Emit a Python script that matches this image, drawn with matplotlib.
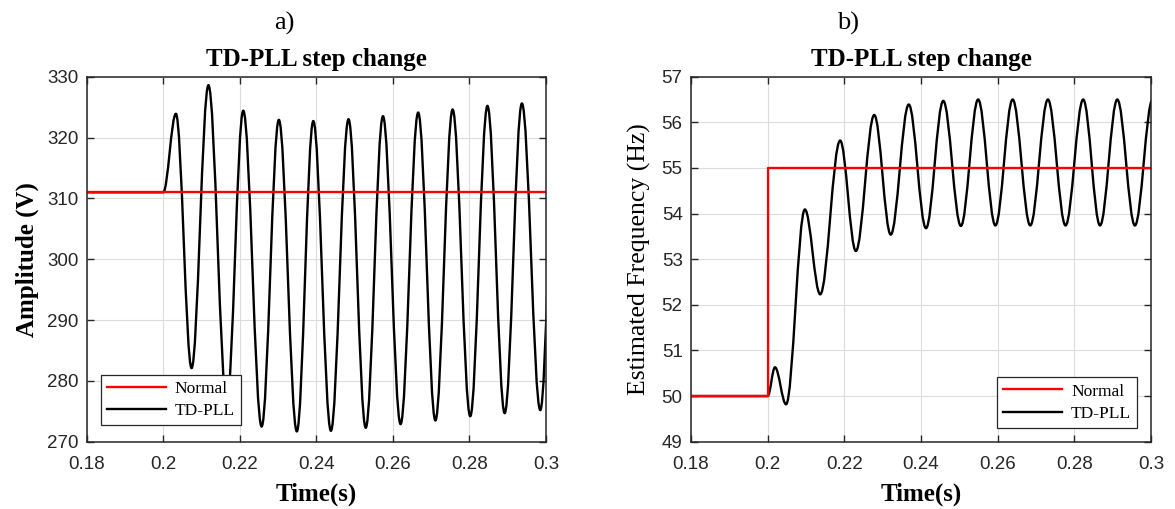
import matplotlib
matplotlib.use("Agg")
import matplotlib.pyplot as plt
from matplotlib.path import Path
from matplotlib.patches import PathPatch
from matplotlib.lines import Line2D

# ── Data ─────────────────────────────────────────────────────────────────────
# TD-PLL curves given by their turning points (time, value); the curve passes
# through each one with a flat tangent.
amp_t = [0.18, 0.2000, 0.2033, 0.2074, 0.2118, 0.2166, 0.2209, 0.2257, 0.2302,
         0.2349, 0.2392, 0.2438, 0.2484, 0.2529, 0.2574, 0.2620, 0.2666, 0.2711,
         0.2756, 0.2802, 0.2847, 0.2892, 0.2937, 0.2985, 0.3028]
amp_v = [311.0, 311.0, 323.9, 282.1, 328.6, 276.5, 324.4, 272.5, 322.9,
         271.7, 322.7, 271.8, 323.0, 272.3, 323.5, 272.9, 324.1, 273.5,
         324.6, 274.2, 325.2, 274.7, 325.6, 275.2, 326.0]

freq_t = [0.18, 0.2000, 0.2019, 0.2048, 0.2097, 0.2137, 0.2189, 0.2230, 0.2278,
          0.2321, 0.2368, 0.2413, 0.2458, 0.2504, 0.2549, 0.2594, 0.2639, 0.2685,
          0.2731, 0.2777, 0.2823, 0.2867, 0.2912, 0.2958, 0.3004]
freq_v = [50.0, 50.0, 50.63, 49.82, 54.09, 52.23, 55.60, 53.18, 56.16,
          53.54, 56.39, 53.68, 56.47, 53.73, 56.50, 53.74, 56.50, 53.74,
          56.50, 53.74, 56.50, 53.74, 56.50, 53.74, 56.50]

# Reference ("Normal") signals
normal_amp_t = [0.18, 0.3]
normal_amp_v = [311, 311]
normal_freq_t = [0.18, 0.2, 0.2, 0.3]
normal_freq_v = [50, 50, 55, 55]

x_ticks = [0.18, 0.2, 0.22, 0.24, 0.26, 0.28, 0.3]
x_tick_labels = ["0.18", "0.2", "0.22", "0.24", "0.26", "0.28", "0.3"]
amp_ticks = [270, 280, 290, 300, 310, 320, 330]
freq_ticks = [49, 50, 51, 52, 53, 54, 55, 56, 57]

# ── Style ─────────────────────────────────────────────────────────────────────
SERIF = "Liberation Serif"
SANS = "Liberation Sans"
LW = 1.7
K = 0.36  # bezier handle fraction (approximates a half-cosine between turning points)


def turning_point_path(ts, vs):
    verts = [(ts[0], vs[0])]
    codes = [Path.MOVETO]
    for i in range(1, len(ts)):
        t0, v0, t1, v1 = ts[i - 1], vs[i - 1], ts[i], vs[i]
        dt = t1 - t0
        verts += [(t0 + K * dt, v0), (t1 - K * dt, v1), (t1, v1)]
        codes += [Path.CURVE4] * 3
    return Path(verts, codes)


def style_axes(ax, yticks, ylim):
    ax.set_xlim(0.18, 0.3)
    ax.set_ylim(*ylim)
    ax.set_xticks(x_ticks)
    ax.set_xticklabels(x_tick_labels)
    ax.set_yticks(yticks)
    ax.grid(True, color="#dcdcdc", linewidth=0.8)
    ax.set_axisbelow(True)
    ax.tick_params(direction="in", length=5, width=1, top=True, right=True,
                   labelsize=13.5, colors="#262626", pad=6)
    ax.tick_params(axis="x", pad=10)
    for lab in ax.get_xticklabels() + ax.get_yticklabels():
        lab.set_fontfamily(SANS)
    for s in ax.spines.values():
        s.set_color("#262626")
        s.set_linewidth(1.1)
    ax.set_xlabel("Time(s)", fontfamily=SERIF, fontweight="bold", fontsize=18, labelpad=7)
    ax.set_title("TD-PLL step change", fontfamily=SERIF, fontweight="bold", fontsize=18, pad=8)


def add_legend(ax, loc):
    handles = [Line2D([], [], color="#ff0000", lw=LW),
               Line2D([], [], color="black", lw=LW)]
    leg = ax.legend(handles, ["Normal", "TD-PLL"], loc=loc, fancybox=False,
                    prop={"family": SERIF, "size": 12.5}, handlelength=3.4,
                    borderpad=0.35, labelspacing=0.35, handletextpad=0.5,
                    borderaxespad=0.8, framealpha=1, edgecolor="#262626")
    leg.get_frame().set_linewidth(0.9)


fig = plt.figure(figsize=(11.75, 5.09), dpi=100)
ax1 = fig.add_axes([0.0738, 0.1322, 0.3909, 0.7171])
ax2 = fig.add_axes([0.5881, 0.1322, 0.3915, 0.7171])

# ── (a) Amplitude ─────────────────────────────────────────────────────────────
ax1.plot(normal_amp_t, normal_amp_v, color="#ff0000", lw=LW)
ax1.add_patch(PathPatch(turning_point_path(amp_t, amp_v), fill=False,
                        edgecolor="black", lw=LW))
style_axes(ax1, amp_ticks, (270, 330))
ax1.set_ylabel("Amplitude (V)", fontfamily=SERIF, fontweight="bold", fontsize=18, labelpad=6)
add_legend(ax1, (0.031, 0.045))

# ── (b) Frequency ─────────────────────────────────────────────────────────────
ax2.plot(normal_freq_t, normal_freq_v, color="#ff0000", lw=LW)
ax2.add_patch(PathPatch(turning_point_path(freq_t, freq_v), fill=False,
                        edgecolor="black", lw=LW))
style_axes(ax2, freq_ticks, (49, 57))
ax2.set_ylabel("Estimated Frequency (Hz)", fontfamily=SERIF, fontsize=18.5, labelpad=8)
add_legend(ax2, "lower right")

fig.text(284 / 1175, 1 - 23 / 509, "a)", fontfamily=SERIF, fontsize=19, ha="center", va="center")
fig.text(848 / 1175, 1 - 23 / 509, "b)", fontfamily=SERIF, fontsize=19, ha="center", va="center")

fig.savefig("out.png", dpi=100)
